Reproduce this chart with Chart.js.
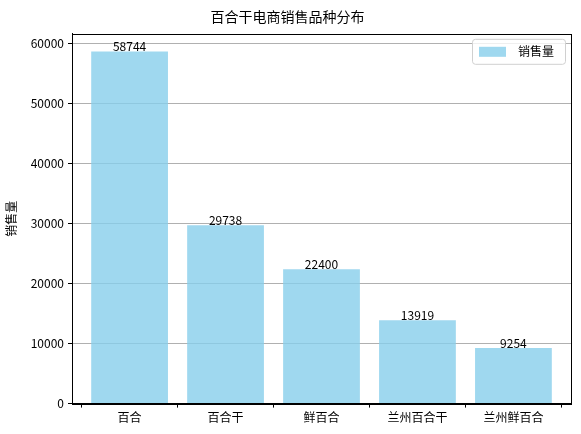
<!DOCTYPE html>
<html><head><meta charset="utf-8">
<script src="https://cdn.jsdelivr.net/npm/chart.js@4"></script>
<style>body{margin:0;background:#fff}#w{width:581px;height:434px}</style>
</head><body><div id="w"><canvas id="c" width="581" height="434"></canvas></div>
<script>
const categories=['百合','百合干','鲜百合','兰州百合干','兰州鲜百合'];
const sales=[58744,29738,22400,13919,9254];
const yTicks=[0,10000,20000,30000,40000,50000,60000];
const F='"Noto Sans CJK SC", sans-serif';
const color='rgba(135,206,235,0.8)';
const labels={id:'lab',afterDatasetsDraw(ch){
  const ctx=ch.ctx;const m=ch.getDatasetMeta(0);const a=ch.chartArea;
  ctx.save();
  ctx.strokeStyle='#000';ctx.lineWidth=1;ctx.strokeRect(Math.round(a.left)+0.5,Math.round(a.top)+0.5,Math.round(a.right-a.left),Math.round(a.bottom-a.top));
  ctx.font='12px '+F;ctx.fillStyle='#000';ctx.textAlign='center';ctx.textBaseline='bottom';
  m.data.forEach((b,i)=>ctx.fillText(String(sales[i]),b.x,b.y+1));
  const x0=a.right-99,y0=a.top+5;
  ctx.fillStyle='rgba(255,255,255,0.8)';ctx.strokeStyle='#d0d0d0';
  ctx.beginPath();ctx.roundRect(x0+0.5,y0+0.5,93,25,3);ctx.fill();ctx.stroke();
  ctx.fillStyle=color;ctx.fillRect(x0+7,y0+8,27,10);
  ctx.fillStyle='#000';ctx.textAlign='left';ctx.textBaseline='middle';ctx.fillText('销售量',x0+46,y0+13);
  ctx.restore();
}};
new Chart(document.getElementById('c'),{type:'bar',
 data:{datasets:[{label:'销售量',data:sales.map((v,i)=>({x:i,y:v})),backgroundColor:color,barPercentage:0.8,categoryPercentage:1}]},
 options:{responsive:false,animation:false,
  layout:{padding:{left:4,right:10,top:0,bottom:6}},
  plugins:{legend:{display:false},tooltip:{enabled:false},
   title:{display:true,text:'百合干电商销售品种分布',color:'#000',font:{family:F,size:14,weight:'normal'},padding:{top:8,bottom:9}}},
  scales:{
   x:{type:'linear',offset:false,min:-0.6,max:4.6,afterBuildTicks:s=>{s.ticks=categories.map((_,i)=>({value:i}));},
    ticks:{callback:v=>categories[v],color:'#000',font:{family:F,size:12},autoSkip:false,maxRotation:0},
    grid:{display:true,drawOnChartArea:false,color:'#000',tickLength:4},border:{color:'#000'}},
   y:{min:0,max:61681,afterBuildTicks:s=>{s.ticks=yTicks.map(v=>({value:v}));},
    afterFit:s=>{s.width=68;},
    ticks:{callback:v=>String(v),color:'#000',font:{family:F,size:12},padding:4},
    title:{display:true,text:'销售量',color:'#000',font:{family:F,size:12},padding:0},
    grid:{color:'#b0b0b0',tickColor:'#000',tickLength:4},border:{color:'#000'}}
  }},plugins:[labels]});
</script></body></html>
